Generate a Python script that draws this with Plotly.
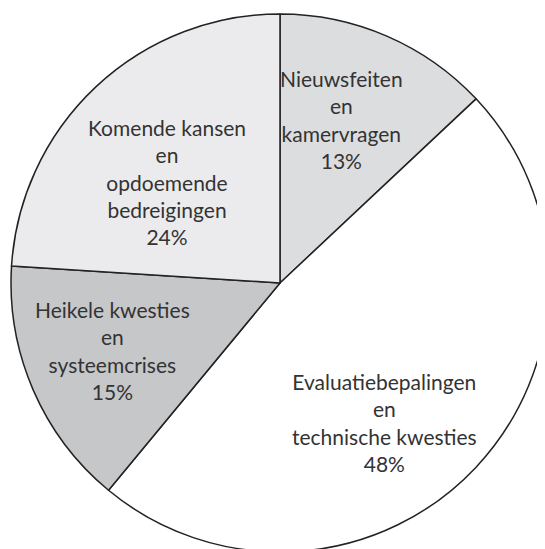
import plotly.graph_objects as go

labels = [
    "Nieuwsfeiten<br>en<br>kamervragen",
    "Evaluatiebepalingen<br>en<br>technische kwesties",
    "Heikele kwesties<br>en<br>systeemcrises",
    "Komende kansen<br>en<br>opdoemende<br>bedreigingen",
]
values = [13, 48, 15, 24]
colors = ["#dcdddf", "#ffffff", "#c6c7c9", "#ebebed"]
# label anchor positions (paper fractions) for each slice's text block
label_x = [0.615, 0.695, 0.188, 0.290]
label_y = [0.803, 0.240, 0.374, 0.688]

fig = go.Figure(
    go.Pie(
        labels=labels,
        values=values,
        sort=False,
        direction="clockwise",
        rotation=0,
        marker=dict(colors=colors, line=dict(color="#222222", width=1.5)),
        textinfo="none",
        hoverinfo="skip",
        showlegend=False,
    )
)
for lab, v, x, y in zip(labels, values, label_x, label_y):
    fig.add_annotation(
        x=x, y=y, xref="paper", yref="paper",
        text=f"{lab}<br>{v}%", showarrow=False,
        xanchor="center", yanchor="middle", align="center",
        font=dict(family="Lato", size=21, color="#333333"),
    )
fig.update_layout(
    width=545,
    height=549,
    margin=dict(l=3, t=6, r=4, b=5),
    paper_bgcolor="white",
)
fig.write_html("out.html")
